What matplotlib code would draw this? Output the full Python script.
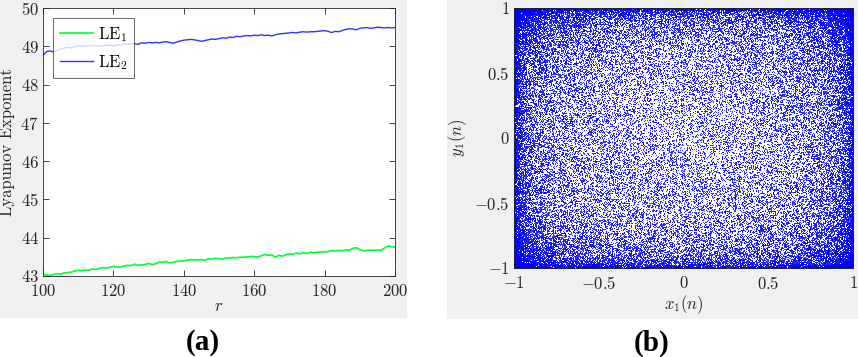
import numpy as np
import matplotlib
matplotlib.use("Agg")
import matplotlib.pyplot as plt
from matplotlib.patches import Rectangle

plt.rcParams['font.family'] = 'serif'
plt.rcParams['font.serif'] = ['cmr10', 'DejaVu Serif']
plt.rcParams['mathtext.fontset'] = 'cm'
plt.rcParams['axes.formatter.use_mathtext'] = True

# ---- data (a) ----
r_values = list(range(100, 201))
le1 = [43.04, 43.03, 43.01, 43.04, 43.06, 43.05, 43.08, 43.09, 43.10, 43.13,
       43.15, 43.14, 43.16, 43.15, 43.18, 43.17, 43.20, 43.22, 43.21, 43.23,
       43.25, 43.24, 43.23, 43.26, 43.28, 43.27, 43.31, 43.28, 43.29, 43.30,
       43.33, 43.30, 43.32, 43.37, 43.36, 43.38, 43.34, 43.36, 43.38, 43.39,
       43.40, 43.41, 43.43, 43.42, 43.42, 43.43, 43.41, 43.45, 43.44, 43.46,
       43.45, 43.44, 43.47, 43.47, 43.48, 43.48, 43.49, 43.49, 43.50, 43.51,
       43.51, 43.49, 43.53, 43.56, 43.54, 43.55, 43.49, 43.54, 43.52, 43.55,
       43.58, 43.57, 43.60, 43.58, 43.61, 43.59, 43.62, 43.61, 43.62, 43.63,
       43.63, 43.64, 43.66, 43.65, 43.67, 43.66, 43.68, 43.67, 43.72, 43.74,
       43.69, 43.66, 43.67, 43.68, 43.67, 43.68, 43.67, 43.73, 43.78, 43.77, 43.75]
le2 = [48.76, 48.86, 48.88, 48.85, 48.90, 48.93, 48.95, 48.97, 48.96, 48.99,
       49.01, 49.00, 49.02, 49.01, 49.03, 49.00, 49.02, 49.01, 49.03, 49.02,
       49.01, 49.04, 49.03, 49.06, 49.05, 49.06, 49.07, 49.05, 49.09, 49.08,
       49.10, 49.09, 49.10, 49.09, 49.11, 49.12, 49.10, 49.08, 49.11, 49.14,
       49.16, 49.17, 49.18, 49.17, 49.15, 49.13, 49.15, 49.17, 49.19, 49.18,
       49.20, 49.22, 49.21, 49.24, 49.23, 49.26, 49.25, 49.27, 49.28, 49.27,
       49.29, 49.28, 49.30, 49.28, 49.29, 49.27, 49.30, 49.32, 49.33, 49.34,
       49.35, 49.36, 49.35, 49.37, 49.38, 49.37, 49.38, 49.38, 49.39, 49.40,
       49.41, 49.39, 49.36, 49.39, 49.38, 49.41, 49.44, 49.46, 49.45, 49.43,
       49.47, 49.48, 49.49, 49.47, 49.48, 49.50, 49.49, 49.48, 49.49, 49.48, 49.49]
a_xticks = [100, 120, 140, 160, 180, 200]
a_yticks = [43, 44, 45, 46, 47, 48, 49, 50]

# ---- data (b): phase portrait of a chaotic 2D sine map ----
map_r = 100.0
map_x0, map_y0 = 0.3, 0.4
map_iters = 80000
b_ticks = [-1, -0.5, 0, 0.5, 1]
b_ticklabels = ['$-1$', '$-0.5$', '$0$', '$0.5$', '$1$']

xs = np.empty(map_iters)
ys = np.empty(map_iters)
x, y = map_x0, map_y0
for i in range(map_iters):
    x, y = np.sin(map_r * (x + 0.7 * y) + 1.0), np.sin(map_r * (y - 0.3 * x * x) + 2.0)
    xs[i] = x
    ys[i] = y

W, H = 858, 357
fig = plt.figure(figsize=(W / 100, H / 100), dpi=100)
fig.patch.set_facecolor('white')

gray = '#f0f0f0'
fig.add_artist(Rectangle((0, 1 - 318 / H), 407 / W, 318 / H, transform=fig.transFigure,
                         facecolor=gray, edgecolor='none', zorder=-10))
fig.add_artist(Rectangle((447 / W, 1 - 319 / H), (858 - 447) / W, 319 / H, transform=fig.transFigure,
                         facecolor=gray, edgecolor='none', zorder=-10))

tick_col = '#262626'

def style(ax):
    ax.tick_params(direction='in', top=True, right=True, length=4, width=0.6,
                   colors=tick_col, labelsize=12)
    ax.tick_params(axis='x', pad=5)
    ax.tick_params(axis='y', pad=3)
    for s in ax.spines.values():
        s.set_linewidth(0.6)
        s.set_color(tick_col)

# ---- panel (a) ----
axa = fig.add_axes([43 / W, 1 - 276 / H, (395 - 43) / W, (276 - 8) / H])
axa.plot(r_values, le1, color='#00ff33', lw=1.2, label='LE$_1$')
axa.plot(r_values, le2, color='#3333ff', lw=1.0, label='LE$_2$')
axa.set_xlim(100, 200)
axa.set_ylim(43, 50)
axa.set_xticks(a_xticks)
axa.set_yticks(a_yticks)
style(axa)
axa.set_xlabel('$r$', fontsize=12, color=tick_col, labelpad=0)
axa.set_ylabel('Lyapunov Exponent', fontsize=12, color=tick_col, labelpad=4)
leg = axa.legend(loc='upper left', fontsize=12, frameon=True, fancybox=False,
                 edgecolor='#262626', handlelength=2.0, borderaxespad=0.6,
                 labelspacing=0.55, borderpad=0.4, handletextpad=0.3)
leg.get_frame().set_linewidth(0.6)

# ---- panel (b) ----
axb = fig.add_axes([514 / W, 1 - 268 / H, (853 - 514) / W, (268 - 8) / H])
axb.scatter(xs, ys, s=1.5, c='#0000ff', marker='.', linewidths=0, rasterized=True)
axb.set_xlim(-1, 1)
axb.set_ylim(-1, 1)
axb.set_xticks(b_ticks)
axb.set_xticklabels(b_ticklabels)
axb.set_yticks(b_ticks)
axb.set_yticklabels(b_ticklabels)
style(axb)
axb.set_xlabel('$x_1(n)$', fontsize=12, color=tick_col, labelpad=1)
axb.set_ylabel('$y_1(n)$', fontsize=12, color=tick_col, labelpad=4)

fig.text(203 / W, 1 - 343 / H, '(a)', ha='center', va='center', fontsize=21,
         fontweight='bold', family='Liberation Serif')
fig.text(652 / W, 1 - 343 / H, '(b)', ha='center', va='center', fontsize=21,
         fontweight='bold', family='Liberation Serif')

fig.savefig('out.png', dpi=100)
